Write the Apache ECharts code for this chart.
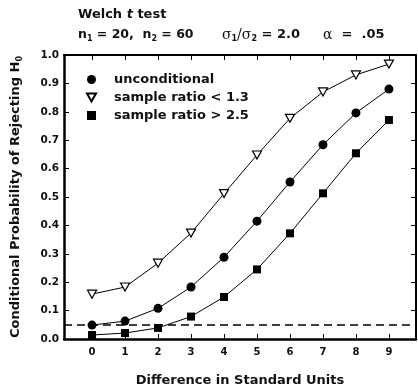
<!DOCTYPE html>
<html lang="en">
<head>
    <meta charset="UTF-8">
    <title>Welch t test</title>
    <style>
        html, body { margin: 0; padding: 0; background: #fff; }
        #main { width: 418px; height: 388px; }
    </style>
</head>
<body>
    <div id="main"></div>
    <script src="https://cdn.jsdelivr.net/npm/echarts@6/dist/echarts.min.js"></script>
    <script>
        // data
        var diffs = [0, 1, 2, 3, 4, 5, 6, 7, 8, 9];
        var unconditional = [0.049, 0.063, 0.108, 0.183, 0.288, 0.415, 0.553, 0.684, 0.796, 0.880];
        var ratioLow = [0.158, 0.183, 0.267, 0.373, 0.512, 0.648, 0.777, 0.870, 0.930, 0.968];
        var ratioHigh = [0.014, 0.021, 0.039, 0.079, 0.148, 0.245, 0.372, 0.513, 0.654, 0.771];
        var alphaLevel = 0.05;
        var seriesNames = ['unconditional', 'sample ratio < 1.3', 'sample ratio > 2.5'];

        var font = 'DejaVu Sans, sans-serif';
        var ink = '#111';

        function pairs(ys) {
            return diffs.map(function (x, i) { return [x, ys[i]]; });
        }

        var triDown = 'path://M0,0 L10,0 L5,9 Z';

        var myChart = echarts.init(document.getElementById('main'));

        var option = {
            animation: false,
            backgroundColor: '#fff',
            textStyle: { fontFamily: font },
            grid: { left: 64, top: 55, right: 2, bottom: 49, outerBoundsMode: 'none', containLabel: false },
            graphic: [
                {
                    type: 'text', left: 78, top: 8,
                    style: {
                        text: '{b|Welch }{i|t}{b| test}',
                        rich: {
                            b: { fontSize: 13, fontWeight: 'bold', fill: ink, fontFamily: font },
                            i: { fontSize: 13, fontWeight: 'bold', fontStyle: 'italic', fill: ink, fontFamily: font }
                        }
                    }
                },
                {
                    type: 'text', left: 78, top: 28,
                    style: {
                        text: '{b|n}{s|1}{b| = 20,  n}{s|2}{b| = 60}',
                        rich: {
                            b: { fontSize: 12.5, fontWeight: 'bold', fill: ink, fontFamily: font, lineHeight: 16 },
                            s: { fontSize: 8, fontWeight: 'bold', fill: ink, fontFamily: font, lineHeight: 8, verticalAlign: 'bottom' }
                        }
                    }
                },
                {
                    type: 'text', left: 222, top: 28,
                    style: {
                        text: '{g|σ}{s|1}{g|/σ}{s|2}{b| = 2.0}',
                        rich: {
                            g: { fontSize: 14, fill: ink, fontFamily: 'DejaVu Serif', lineHeight: 16 },
                            b: { fontSize: 13, fontWeight: 'bold', fill: ink, fontFamily: font, lineHeight: 16 },
                            s: { fontSize: 8, fontWeight: 'bold', fill: ink, fontFamily: font, lineHeight: 8, verticalAlign: 'bottom' }
                        }
                    }
                },
                {
                    type: 'text', left: 323, top: 28,
                    style: {
                        text: '{g|α}{b|  =  .05}',
                        rich: {
                            g: { fontSize: 14, fill: ink, fontFamily: 'DejaVu Serif', lineHeight: 16 },
                            b: { fontSize: 13, fontWeight: 'bold', fill: ink, fontFamily: font, lineHeight: 16 }
                        }
                    }
                }
            ],
            legend: {
                orient: 'vertical',
                left: 81, top: 68,
                itemWidth: 9, itemHeight: 9, itemGap: 5,
                textStyle: { fontSize: 13, fontWeight: 'bold', color: ink, fontFamily: font, padding: [0, 0, 0, 13] },
                data: [
                    { name: seriesNames[0], icon: 'circle' },
                    { name: seriesNames[1], icon: triDown },
                    { name: seriesNames[2], icon: 'rect' }
                ]
            },
            xAxis: [
                {
                    type: 'value', min: -0.85, max: 9.82,
                    name: 'Difference in Standard Units', nameLocation: 'middle', nameGap: 35,
                    nameTextStyle: { fontSize: 13, fontWeight: 'bold', color: ink, fontFamily: font },
                    axisLine: { onZero: false, lineStyle: { color: '#000', width: 2.5 } },
                    axisTick: { inside: true, length: 5, customValues: diffs, lineStyle: { color: '#000', width: 1 } },
                    axisLabel: { customValues: diffs, margin: 8, fontSize: 10, fontWeight: 'bold', color: ink, fontFamily: font },
                    splitLine: { show: false }
                },
                {
                    type: 'value', position: 'top', min: -0.85, max: 9.82,
                    axisLine: { onZero: false, lineStyle: { color: '#000', width: 2 } },
                    axisTick: { inside: true, length: 5, customValues: diffs, lineStyle: { color: '#000', width: 1 } },
                    axisLabel: { show: false },
                    splitLine: { show: false }
                }
            ],
            yAxis: [
                {
                    type: 'value', min: 0, max: 1, interval: 0.1,
                    name: '{a|Conditional Probability of Rejecting H}{s|0}',
                    nameLocation: 'middle', nameGap: 40,
                    nameTextStyle: {
                        rich: {
                            a: { fontSize: 13, fontWeight: 'bold', color: ink, fontFamily: font, lineHeight: 16 },
                            s: { fontSize: 8, fontWeight: 'bold', color: ink, fontFamily: font, lineHeight: 8, verticalAlign: 'bottom' }
                        }
                    },
                    axisLine: { onZero: false, lineStyle: { color: '#000', width: 2.5 } },
                    axisTick: { inside: true, length: 5, lineStyle: { color: '#000', width: 1 } },
                    axisLabel: {
                        margin: 5, fontSize: 10.5, fontWeight: 'bold', color: ink, fontFamily: font,
                        formatter: function (v) { return v.toFixed(1); }
                    },
                    splitLine: { show: false }
                },
                {
                    type: 'value', position: 'right', min: 0, max: 1, interval: 0.1,
                    axisLine: { show: true, onZero: false, lineStyle: { color: '#000', width: 2 } },
                    axisTick: { inside: true, length: 5, lineStyle: { color: '#000', width: 1 } },
                    axisLabel: { show: false },
                    splitLine: { show: false }
                }
            ],
            series: [
                {
                    name: seriesNames[0], type: 'line', data: pairs(unconditional),
                    symbol: 'circle', symbolSize: 9,
                    lineStyle: { color: '#000', width: 1 },
                    itemStyle: { color: '#000' },
                    z: 3,
                    markLine: {
                        silent: true, symbol: 'none', label: { show: false },
                        lineStyle: { color: '#000', width: 1.5, type: [8, 5] },
                        data: [{ yAxis: alphaLevel }]
                    }
                },
                {
                    name: seriesNames[1], type: 'line', data: pairs(ratioLow),
                    symbol: triDown, symbolSize: [9, 8],
                    lineStyle: { color: '#000', width: 1 },
                    itemStyle: { color: '#fff', borderColor: '#000', borderWidth: 1.2 },
                    z: 3
                },
                {
                    name: seriesNames[2], type: 'line', data: pairs(ratioHigh),
                    symbol: 'rect', symbolSize: 8,
                    lineStyle: { color: '#000', width: 1 },
                    itemStyle: { color: '#000' },
                    z: 3
                }
            ]
        };

        myChart.setOption(option);
    </script>
</body>
</html>
